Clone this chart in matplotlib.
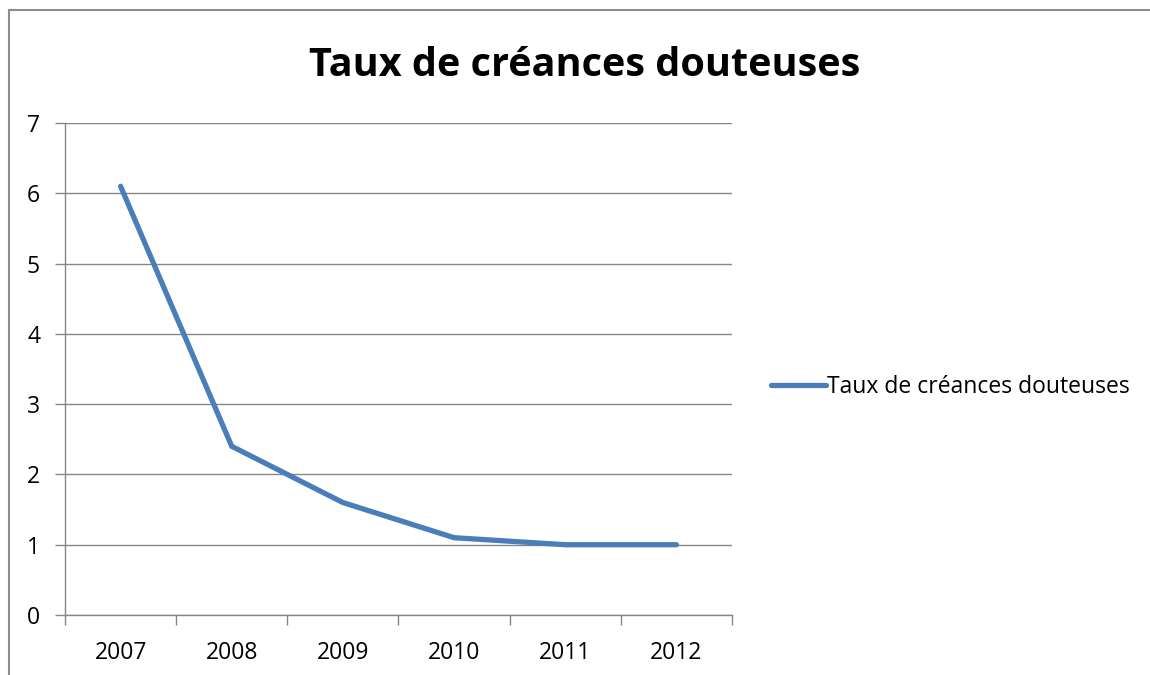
import matplotlib.pyplot as plt
from matplotlib.patches import Rectangle
import numpy as np

plt.rcParams['font.family'] = ['Open Sans', 'DejaVu Sans']

# Données
annees = ['2007', '2008', '2009', '2010', '2011', '2012']
taux = [6.1, 2.4, 1.6, 1.1, 1.0, 1.0]
titre = 'Taux de créances douteuses'

gris = '#868686'
bleu = '#4A7EBB'

fig = plt.figure(figsize=(11.5, 6.75), dpi=100)

# cadre du graphique (coupé à droite et en bas)
fig.patches.append(Rectangle((9 / 1150, -0.1), 1.2, 1 - 10 / 675 + 0.1,
                             transform=fig.transFigure, fill=False,
                             edgecolor='#8c8c8c', linewidth=1.5))

ax = fig.add_axes([65 / 1150, 1 - 615 / 675, 667 / 1150, 492 / 675])
x = np.arange(len(annees))
ax.plot(x, taux, color=bleu, linewidth=3.8, solid_capstyle='round',
        solid_joinstyle='miter', label=titre, zorder=3)

ax.set_xlim(-0.5, len(annees) - 0.5)
ax.set_ylim(0, 7)
ax.set_yticks(range(8))
ax.set_xticks(np.arange(-0.5, len(annees)), labels=[''] * (len(annees) + 1))
ax.set_xticks(x, labels=annees, minor=True)
ax.tick_params(axis='x', which='major', length=7, color=gris, width=1)
ax.tick_params(axis='x', which='minor', length=0, labelsize=16.5, pad=19)
ax.tick_params(axis='y', length=7, color=gris, width=1, labelsize=16.5, pad=11)
ax.grid(axis='y', color=gris, linewidth=1)
ax.set_axisbelow(True)
for s in ['top', 'right']:
    ax.spines[s].set_visible(False)
for s in ['left', 'bottom']:
    ax.spines[s].set_color(gris)
    ax.spines[s].set_linewidth(1)

fig.text(585 / 1150, 1 - 65 / 675, titre, ha='center', va='center',
         fontsize=28.5, fontweight='bold')

ax.legend(loc='center left', bbox_to_anchor=(750 / 1150, 1 - 387 / 675),
          bbox_transform=fig.transFigure, frameon=False, fontsize=16.5,
          handlelength=2.4, handletextpad=0.05)

plt.savefig('out.png', dpi=100)
plt.close()
